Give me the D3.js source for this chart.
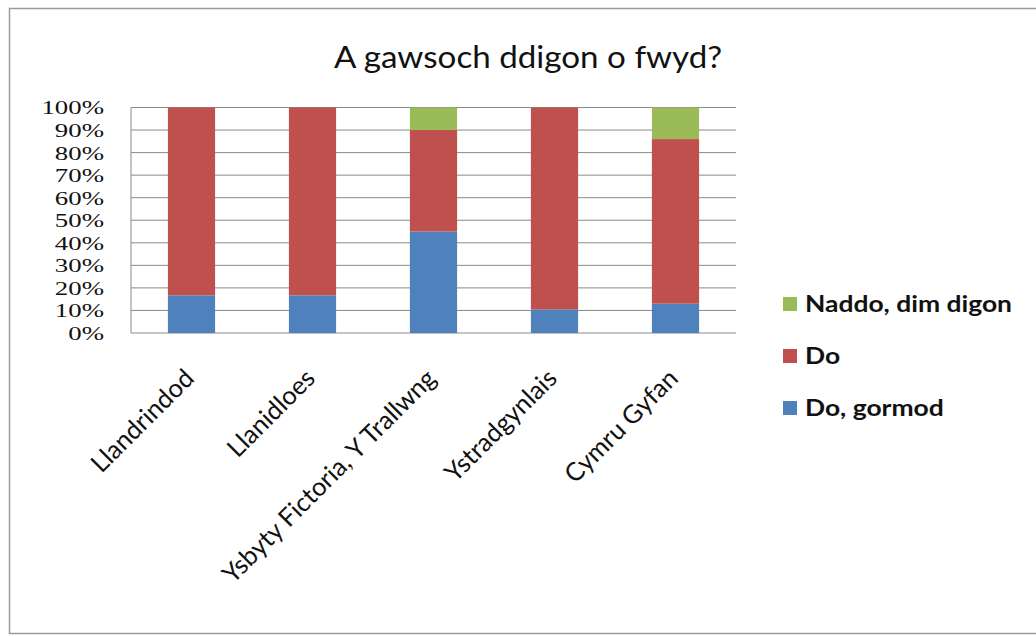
<!DOCTYPE html>
<html>
<head>
<meta charset="utf-8">
<script src="https://cdn.jsdelivr.net/npm/d3@7"></script>
<style>
  body { margin: 0; background: #fff; }
  svg { display: block; }
</style>
</head>
<body>
<svg class="chart"></svg>
<script>
const categories = ["Llandrindod", "Llanidloes", "Ysbyty Fictoria, Y Trallwng", "Ystradgynlais", "Cymru Gyfan"];
const seriesNames = ["Do, gormod", "Do", "Naddo, dim digon"];
const doGormod = [16.7, 16.7, 45, 10.5, 13];
const doValues = [83.3, 83.3, 45, 89.5, 73];
const naddo = [0, 0, 10, 0, 14];
const colors = ["#4f81bd", "#c0504d", "#9bbb59"];
const yTicks = [0, 10, 20, 30, 40, 50, 60, 70, 80, 90, 100];

const width = 1036, height = 636;
const margin = { top: 107.5, left: 131, right: 300, bottom: 303 };
const sans = "Lato, 'Open Sans', sans-serif";

const svg = d3.select(".chart")
    .attr("width", width)
    .attr("height", height);

// outer chart frame
svg.append("rect")
    .attr("x", 9.5).attr("y", 8.5)
    .attr("width", width + 10).attr("height", 625)
    .attr("fill", "#fff")
    .attr("stroke", "#9a9a9a")
    .attr("stroke-width", 1.5);

svg.append("text")
    .attr("transform", "translate(528, 68) scale(1.07, 1)")
    .attr("text-anchor", "middle")
    .attr("font-family", sans)
    .attr("font-size", 31)
    .attr("fill", "#111")
    .text("A gawsoch ddigon o fwyd?");

const x = d3.scaleBand()
    .domain(categories)
    .range([margin.left, 736])
    .paddingInner(0.61)
    .paddingOuter(0.305);

const y = d3.scaleLinear()
    .domain([0, 100])
    .range([333, margin.top]);

const g = svg.append("g");

// gridlines
g.selectAll("line.grid")
    .data(yTicks)
    .enter()
  .append("line")
    .attr("class", "grid")
    .attr("x1", margin.left).attr("x2", 736)
    .attr("y1", d => y(d)).attr("y2", d => y(d))
    .attr("stroke", "#8a8a8a")
    .attr("stroke-width", 1);

g.append("line")
    .attr("x1", margin.left).attr("x2", margin.left)
    .attr("y1", y(0)).attr("y2", y(100))
    .attr("stroke", "#8a8a8a");

const rows = categories.map((c, i) => ({ cat: c, "Do, gormod": doGormod[i], "Do": doValues[i], "Naddo, dim digon": naddo[i] }));
const stacked = d3.stack().keys(seriesNames)(rows);

g.selectAll("g.series")
    .data(stacked)
    .enter()
  .append("g")
    .attr("fill", (d, i) => colors[i])
  .selectAll("rect")
    .data(d => d)
    .enter()
  .append("rect")
    .attr("x", d => x(d.data.cat))
    .attr("width", x.bandwidth())
    .attr("y", d => y(d[1]))
    .attr("height", d => y(d[0]) - y(d[1]));

// y axis labels (squeezed a little so they sit tight like the original)
g.selectAll("text.ylab")
    .data(yTicks)
    .enter()
  .append("text")
    .attr("transform", d => `translate(104, ${y(d)}) scale(1.22, 0.88)`)
    .attr("dy", "0.36em")
    .attr("text-anchor", "end")
    .attr("font-family", "'Liberation Serif', 'DejaVu Serif', serif")
    .attr("font-size", 22)
    .attr("fill", "#111")
    .text(d => d + "%");

// x axis labels, rotated
g.selectAll("text.xlab")
    .data(categories)
    .enter()
  .append("text")
    .attr("transform", d => `translate(${x(d) + x.bandwidth() / 2 + 4}, 380) rotate(-45)`)
    .attr("text-anchor", "end")
    .attr("font-family", sans)
    .attr("font-size", 25.5)
    .attr("fill", "#111")
    .text(d => d);

// legend
const legendItems = seriesNames.slice().reverse();
const legend = svg.append("g")
    .selectAll("g")
    .data(legendItems)
    .enter()
  .append("g")
    .attr("transform", (d, i) => `translate(783, ${304 + i * 52})`);

legend.append("rect")
    .attr("x", 0).attr("y", -7)
    .attr("width", 14).attr("height", 14)
    .attr("fill", d => colors[seriesNames.indexOf(d)]);

legend.append("text")
    .attr("transform", "translate(22, 0) scale(1.15, 1)")
    .attr("dy", "0.36em")
    .attr("font-family", sans)
    .attr("font-size", 23)
    .attr("font-weight", "bold")
    .attr("fill", "#111")
    .text(d => d);
</script>
</body>
</html>
